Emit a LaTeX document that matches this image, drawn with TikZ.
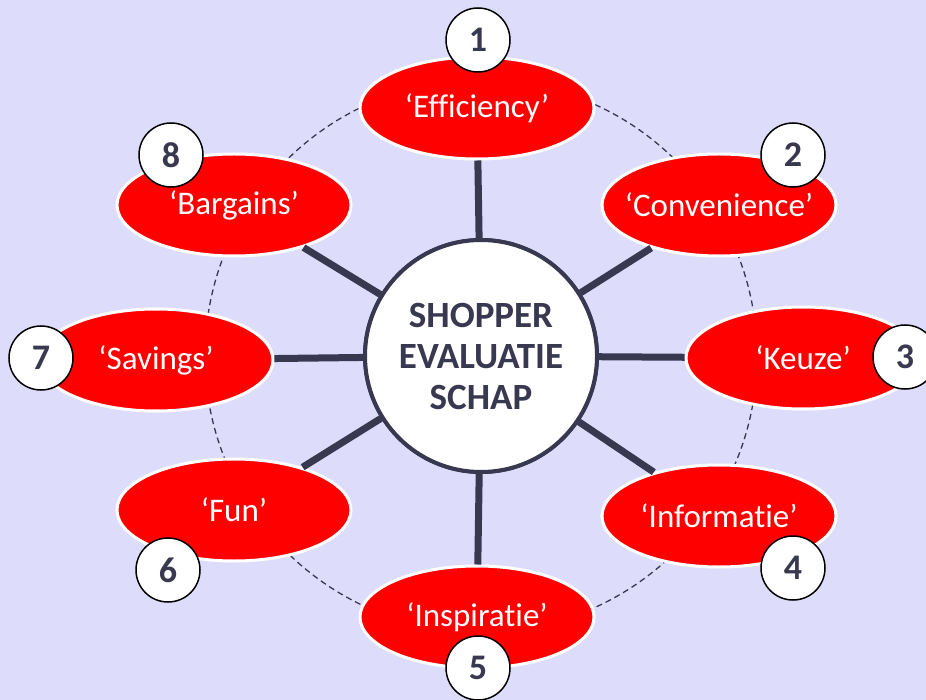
\documentclass[tikz,border=0pt]{standalone}
\usepackage{fontspec}
\setmainfont{Carlito}[Ligatures=NoCommon]
\usetikzlibrary{shapes.geometric}
\definecolor{bg}{RGB}{221,221,251}
\definecolor{ink}{RGB}{56,56,80}
\definecolor{redfill}{RGB}{255,0,0}
\newcommand{\ovaltext}[1]{\makebox[0pt]{#1}}
\begin{document}
\begin{tikzpicture}[x=1pt,y=-1pt,
  oval/.style={ellipse,draw=white,line width=3pt,fill=redfill,minimum width=234pt,minimum height=102pt,inner sep=0pt,text=white,font=\fontsize{33}{38}\selectfont},
  hub/.style={circle,draw=ink,line width=4pt,fill=white,minimum size=232pt,inner sep=0pt,align=center,text=ink,font=\fontsize{37}{41}\selectfont\bfseries},
  badge/.style={circle,draw=black,line width=1.5pt,fill=white,minimum size=64pt,inner sep=0pt,text=ink,font=\fontsize{36}{40}\selectfont\bfseries},
  spoke/.style={draw=ink,line width=7pt},
  ring/.style={draw=ink,line width=1.3pt,dash pattern=on 6pt off 4pt}]
\fill[bg] (0,0) rectangle (926,700);
\useasboundingbox (0,0) rectangle (926,700);
\coordinate (O) at (481,356);
\draw[ring] (O) circle [radius=276pt];
\node[hub] (C) at (O) {SHOPPER\\EVALUATIE\\SCHAP};
\node[oval] (E1) at (477,108) {\ovaltext{‘Efficiency’}};
\node[oval] (E2) at (719,205) {\ovaltext{‘Convenience’}};
\node[oval] (E3) at (803,358) {\ovaltext{‘Keuze’}};
\node[oval] (E4) at (719,516) {\ovaltext{‘Informatie’}};
\node[oval] (E5) at (477,617) {\ovaltext{‘Inspiratie’}};
\node[oval] (E6) at (234,510) {\ovaltext{‘Fun’}};
\node[oval] (E7) at (156,360) {\ovaltext{‘Savings’}};
\node[oval] (E8) at (234,205) {\ovaltext{‘Bargains’}};
\foreach \i in {1,...,8} {\draw[spoke] (C) -- (E\i);}
\node[hub] at (O) {SHOPPER\\EVALUATIE\\SCHAP};
\node[badge] (N1) at (478,40) {1};
\node[badge] (N2) at (793,155) {2};
\node[badge] (N3) at (905,357) {3};
\node[badge] (N4) at (793,568) {4};
\node[badge] (N5) at (478,668) {5};
\node[badge] (N6) at (168,570) {6};
\node[badge] (N7) at (41,358) {7};
\node[badge] (N8) at (171,155) {8};
\end{tikzpicture}
\end{document}
